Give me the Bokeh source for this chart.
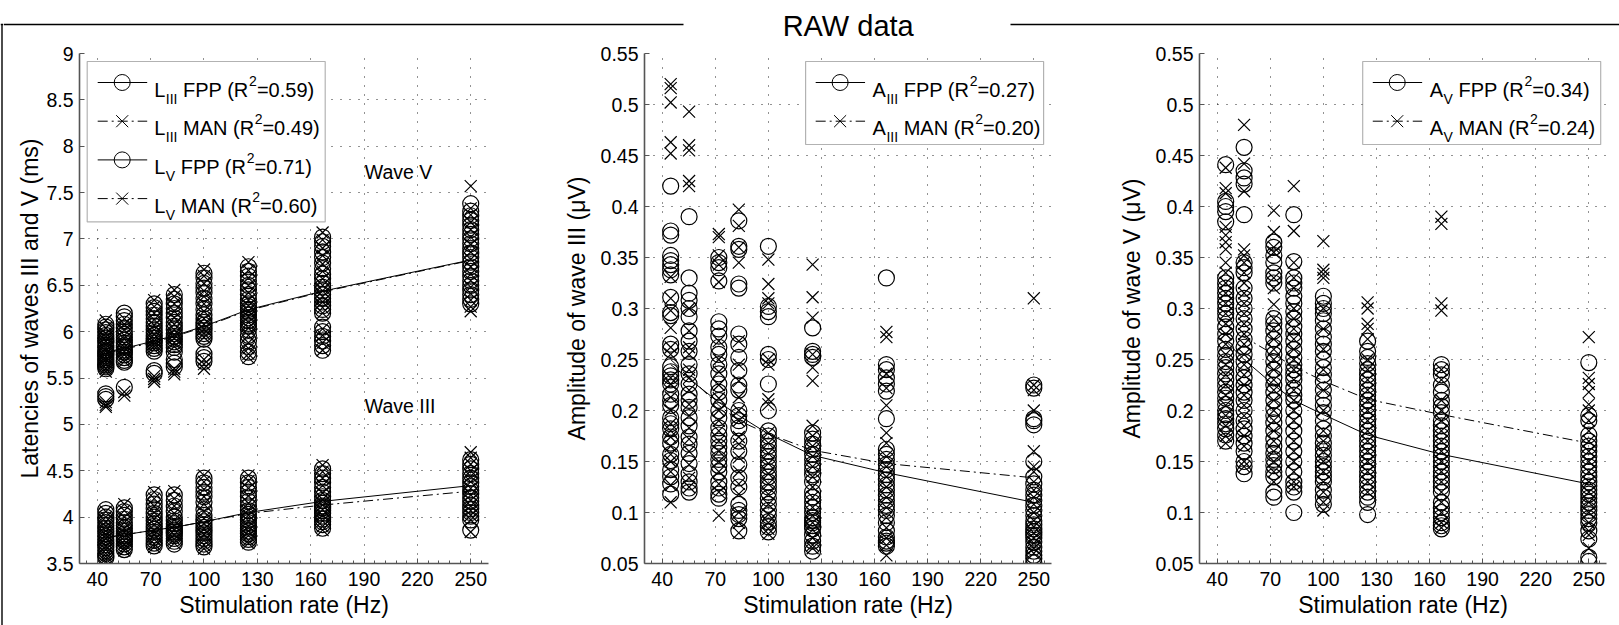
from bokeh.plotting import figure
from bokeh.layouts import row, column
from bokeh.models import Label, BoxAnnotation, FixedTicker, CustomJSTickFormatter, Range1d
from bokeh.embed import file_html
from bokeh.resources import INLINE

FONT = "Liberation Sans"

# ---------------- data ----------------
rates = [44.8, 55.2, 72.0, 83.3, 100.0, 125.0, 166.7, 250.0]
x_ticks = [40, 70, 100, 130, 160, 190, 220, 250]
lat_ticks = [3.5, 4, 4.5, 5, 5.5, 6, 6.5, 7, 7.5, 8, 8.5, 9]
amp_ticks = [0.05, 0.1, 0.15, 0.2, 0.25, 0.3, 0.35, 0.4, 0.45, 0.5, 0.55]

# Latency wave V
LV_FPP = [
    [6.08, 6.05, 6.02, 5.99, 5.96, 5.93, 5.9, 5.88, 5.85, 5.83, 5.8, 5.78, 5.76, 5.74, 5.72, 5.7, 5.68, 5.66, 5.64, 5.62, 5.6, 5.33, 5.3, 5.27],
    [6.2, 6.16, 6.12, 6.08, 6.04, 6.0, 5.97, 5.94, 5.91, 5.88, 5.85, 5.83, 5.8, 5.78, 5.75, 5.72, 5.69, 5.67, 5.4],
    [6.3, 6.26, 6.22, 6.18, 6.14, 6.1, 6.06, 6.02, 5.99, 5.96, 5.93, 5.9, 5.88, 5.85, 5.82, 5.79, 5.58, 5.55],
    [6.4, 6.35, 6.3, 6.25, 6.2, 6.15, 6.1, 6.06, 6.02, 5.98, 5.95, 5.92, 5.89, 5.86, 5.83, 5.78, 5.7, 5.66, 5.62],
    [6.63, 6.58, 6.52, 6.47, 6.42, 6.36, 6.3, 6.24, 6.18, 6.14, 6.1, 6.07, 6.04, 6.01, 5.98, 5.95, 5.92, 5.76, 5.72, 5.68],
    [6.7, 6.65, 6.6, 6.55, 6.5, 6.45, 6.4, 6.35, 6.3, 6.27, 6.24, 6.21, 6.18, 6.15, 6.12, 6.09, 6.06, 6.02, 5.96, 5.9, 5.84, 5.78, 5.73],
    [7.02, 6.97, 6.92, 6.86, 6.8, 6.74, 6.68, 6.62, 6.57, 6.52, 6.48, 6.44, 6.4, 6.36, 6.32, 6.28, 6.24, 6.2, 6.05, 6.0, 5.95, 5.9, 5.85, 5.8],
    [7.38, 7.3, 7.25, 7.2, 7.15, 7.1, 7.05, 7.0, 6.95, 6.9, 6.85, 6.8, 6.75, 6.7, 6.65, 6.6, 6.55, 6.5, 6.45, 6.4, 6.35, 6.3],
]
LV_MAN = [
    [6.12, 6.04, 5.98, 5.94, 5.9, 5.86, 5.82, 5.79, 5.76, 5.73, 5.7, 5.67, 5.64, 5.6, 5.57, 5.24, 5.21, 5.19],
    [6.14, 6.08, 6.02, 5.96, 5.92, 5.87, 5.83, 5.79, 5.75, 5.71, 5.68, 5.35, 5.31],
    [6.34, 6.27, 6.2, 6.13, 6.07, 6.02, 5.97, 5.93, 5.9, 5.87, 5.84, 5.81, 5.52, 5.49, 5.46],
    [6.45, 6.38, 6.3, 6.22, 6.15, 6.08, 6.02, 5.97, 5.93, 5.88, 5.84, 5.6, 5.57, 5.54],
    [6.67, 6.6, 6.52, 6.44, 6.38, 6.3, 6.22, 6.14, 6.08, 6.03, 5.98, 5.94, 5.7, 5.65, 5.6],
    [6.75, 6.66, 6.58, 6.5, 6.42, 6.34, 6.28, 6.22, 6.16, 6.1, 6.04, 5.96, 5.88, 5.82, 5.76, 5.72],
    [7.07, 6.99, 6.9, 6.82, 6.73, 6.65, 6.57, 6.5, 6.44, 6.38, 6.32, 6.26, 6.2, 6.03, 5.96, 5.88, 5.8],
    [7.57, 7.33, 7.26, 7.18, 7.1, 7.02, 6.94, 6.86, 6.78, 6.7, 6.62, 6.55, 6.48, 6.41, 6.34, 6.27, 6.22],
]
# Latency wave III
LIII_FPP = [
    [4.08, 4.04, 4.0, 3.97, 3.94, 3.91, 3.88, 3.85, 3.82, 3.79, 3.76, 3.73, 3.7, 3.67, 3.64, 3.61, 3.58, 3.56],
    [4.1, 4.06, 4.02, 3.98, 3.94, 3.91, 3.88, 3.85, 3.82, 3.8, 3.78, 3.76, 3.74, 3.71, 3.68, 3.65],
    [4.24, 4.19, 4.14, 4.09, 4.04, 4.0, 3.96, 3.93, 3.9, 3.87, 3.84, 3.81, 3.78, 3.75, 3.72, 3.69],
    [4.24, 4.18, 4.12, 4.06, 4.0, 3.96, 3.93, 3.9, 3.88, 3.86, 3.84, 3.82, 3.8, 3.77, 3.74, 3.71],
    [4.42, 4.37, 4.32, 4.27, 4.22, 4.16, 4.08, 4.02, 3.98, 3.95, 3.92, 3.89, 3.86, 3.83, 3.8, 3.77, 3.74, 3.71, 3.68],
    [4.42, 4.37, 4.32, 4.27, 4.22, 4.17, 4.12, 4.07, 4.03, 4.0, 3.97, 3.94, 3.91, 3.88, 3.85, 3.82, 3.79, 3.76, 3.73],
    [4.52, 4.47, 4.42, 4.37, 4.32, 4.27, 4.22, 4.18, 4.15, 4.12, 4.1, 4.07, 4.04, 4.01, 3.98, 3.95, 3.92, 3.88],
    [4.62, 4.57, 4.52, 4.47, 4.42, 4.37, 4.33, 4.29, 4.25, 4.21, 4.17, 4.13, 4.09, 4.05, 4.01, 3.97, 3.86],
]
LIII_MAN = [
    [4.06, 4.0, 3.95, 3.9, 3.85, 3.81, 3.77, 3.73, 3.69, 3.65, 3.61, 3.58, 3.55, 3.52],
    [4.14, 4.07, 4.0, 3.94, 3.88, 3.83, 3.79, 3.75, 3.71, 3.67, 3.64],
    [4.27, 4.2, 4.12, 4.05, 3.98, 3.92, 3.86, 3.81, 3.76, 3.71, 3.68],
    [4.28, 4.2, 4.12, 4.04, 3.97, 3.91, 3.86, 3.81, 3.76, 3.72],
    [4.45, 4.38, 4.3, 4.22, 4.14, 4.06, 3.99, 3.93, 3.87, 3.81, 3.75, 3.7, 3.66],
    [4.45, 4.39, 4.31, 4.23, 4.15, 4.08, 4.02, 3.96, 3.9, 3.85, 3.8, 3.75, 3.72],
    [4.56, 4.49, 4.42, 4.34, 4.26, 4.19, 4.13, 4.08, 4.02, 3.96, 3.9, 3.86],
    [4.7, 4.64, 4.57, 4.5, 4.44, 4.38, 4.31, 4.24, 4.18, 4.12, 4.07, 4.02, 3.97, 3.84],
]
fit_LV_FPP = [5.78, 5.82, 5.90, 5.957, 6.058, 6.238, 6.437, 6.773]
fit_LV_MAN = [5.77, 5.81, 5.89, 5.947, 6.05, 6.23, 6.43, 6.768]
fit_LIII_FPP = [3.78, 3.81, 3.86, 3.89, 3.95, 4.05, 4.17, 4.34]
fit_LIII_MAN = [3.78, 3.81, 3.86, 3.89, 3.95, 4.04, 4.13, 4.28]

# Amplitude wave III
AIII_FPP = [
    [0.42, 0.376, 0.372, 0.352, 0.347, 0.343, 0.338, 0.333, 0.311, 0.296, 0.293, 0.265, 0.26, 0.243, 0.238, 0.234, 0.23, 0.226, 0.216, 0.21, 0.205, 0.193, 0.187, 0.182, 0.174, 0.168, 0.157, 0.151, 0.142, 0.135, 0.128, 0.118],
    [0.39, 0.33, 0.315, 0.308, 0.3, 0.292, 0.278, 0.268, 0.258, 0.245, 0.236, 0.226, 0.216, 0.21, 0.203, 0.193, 0.185, 0.174, 0.167, 0.158, 0.148, 0.138, 0.13, 0.124, 0.12],
    [0.35, 0.345, 0.34, 0.327, 0.287, 0.28, 0.273, 0.262, 0.255, 0.245, 0.236, 0.226, 0.218, 0.21, 0.2, 0.193, 0.183, 0.176, 0.17, 0.164, 0.158, 0.152, 0.146, 0.14, 0.13, 0.124, 0.118, 0.114],
    [0.386, 0.361, 0.358, 0.324, 0.32, 0.275, 0.265, 0.252, 0.239, 0.225, 0.22, 0.2, 0.195, 0.19, 0.183, 0.17, 0.16, 0.147, 0.134, 0.125, 0.108, 0.102, 0.098, 0.094, 0.082],
    [0.361, 0.302, 0.297, 0.292, 0.255, 0.25, 0.226, 0.2, 0.18, 0.175, 0.17, 0.165, 0.16, 0.155, 0.15, 0.145, 0.14, 0.135, 0.13, 0.125, 0.12, 0.114, 0.108, 0.102, 0.097, 0.091, 0.086, 0.081],
    [0.281, 0.258, 0.255, 0.252, 0.178, 0.172, 0.167, 0.162, 0.157, 0.152, 0.147, 0.142, 0.137, 0.13, 0.12, 0.115, 0.11, 0.105, 0.1, 0.095, 0.092, 0.09, 0.087, 0.084, 0.078, 0.072, 0.067, 0.062],
    [0.33, 0.245, 0.24, 0.232, 0.226, 0.219, 0.192, 0.162, 0.157, 0.152, 0.147, 0.142, 0.137, 0.132, 0.127, 0.122, 0.117, 0.112, 0.107, 0.102, 0.097, 0.09, 0.082, 0.076, 0.072, 0.07, 0.067],
    [0.225, 0.222, 0.192, 0.19, 0.186, 0.15, 0.135, 0.128, 0.122, 0.117, 0.112, 0.107, 0.102, 0.097, 0.092, 0.088, 0.084, 0.081, 0.078, 0.075, 0.071, 0.066, 0.062, 0.058, 0.055, 0.051],
]
AIII_MAN = [
    [0.52, 0.516, 0.502, 0.463, 0.452, 0.331, 0.31, 0.298, 0.281, 0.262, 0.255, 0.232, 0.226, 0.213, 0.2, 0.187, 0.18, 0.174, 0.165, 0.157, 0.15, 0.14, 0.127, 0.11],
    [0.493, 0.46, 0.455, 0.425, 0.42, 0.3, 0.278, 0.262, 0.255, 0.24, 0.232, 0.22, 0.206, 0.195, 0.183, 0.172, 0.16, 0.147, 0.134, 0.125],
    [0.373, 0.37, 0.352, 0.343, 0.326, 0.268, 0.25, 0.238, 0.225, 0.212, 0.2, 0.19, 0.18, 0.17, 0.16, 0.15, 0.14, 0.128, 0.12, 0.097],
    [0.397, 0.381, 0.36, 0.345, 0.268, 0.245, 0.229, 0.213, 0.2, 0.19, 0.174, 0.167, 0.154, 0.14, 0.128, 0.118, 0.1, 0.09, 0.08],
    [0.348, 0.324, 0.31, 0.305, 0.25, 0.245, 0.211, 0.206, 0.178, 0.168, 0.158, 0.148, 0.138, 0.128, 0.118, 0.108, 0.098, 0.09, 0.084, 0.079],
    [0.343, 0.311, 0.291, 0.255, 0.242, 0.229, 0.185, 0.175, 0.165, 0.155, 0.145, 0.135, 0.125, 0.115, 0.105, 0.097, 0.09, 0.083, 0.075, 0.068, 0.065],
    [0.277, 0.272, 0.236, 0.222, 0.205, 0.178, 0.168, 0.155, 0.145, 0.135, 0.125, 0.115, 0.105, 0.095, 0.085, 0.075, 0.068, 0.058],
    [0.31, 0.225, 0.22, 0.2, 0.16, 0.145, 0.14, 0.13, 0.122, 0.115, 0.108, 0.1, 0.092, 0.086, 0.08, 0.075, 0.07, 0.065, 0.06],
]
fit_AIII_FPP = [0.245, 0.231, 0.208, 0.195, 0.177, 0.156, 0.139, 0.110]
fit_AIII_MAN = [0.250, 0.233, 0.205, 0.190, 0.177, 0.161, 0.148, 0.134]

# Amplitude wave V
AV_FPP = [
    [0.441, 0.405, 0.4, 0.395, 0.385, 0.33, 0.325, 0.32, 0.315, 0.31, 0.305, 0.3, 0.295, 0.29, 0.282, 0.275, 0.268, 0.26, 0.254, 0.248, 0.242, 0.236, 0.23, 0.224, 0.218, 0.212, 0.206, 0.2, 0.196, 0.192, 0.187, 0.182, 0.176, 0.17],
    [0.458, 0.435, 0.428, 0.422, 0.392, 0.345, 0.34, 0.335, 0.32, 0.31, 0.3, 0.29, 0.28, 0.27, 0.262, 0.255, 0.248, 0.24, 0.232, 0.225, 0.218, 0.21, 0.2, 0.19, 0.182, 0.175, 0.168, 0.16, 0.15, 0.145, 0.138],
    [0.365, 0.36, 0.352, 0.345, 0.335, 0.33, 0.325, 0.29, 0.285, 0.278, 0.27, 0.262, 0.255, 0.248, 0.24, 0.232, 0.225, 0.218, 0.21, 0.202, 0.195, 0.188, 0.18, 0.172, 0.165, 0.158, 0.152, 0.146, 0.14, 0.135, 0.12, 0.115],
    [0.392, 0.346, 0.33, 0.325, 0.32, 0.312, 0.305, 0.297, 0.29, 0.282, 0.275, 0.268, 0.26, 0.252, 0.245, 0.24, 0.235, 0.23, 0.222, 0.215, 0.21, 0.2, 0.19, 0.18, 0.17, 0.16, 0.15, 0.14, 0.13, 0.125, 0.12, 0.1],
    [0.312, 0.305, 0.3, 0.295, 0.288, 0.28, 0.272, 0.265, 0.258, 0.25, 0.242, 0.235, 0.228, 0.22, 0.212, 0.205, 0.198, 0.19, 0.182, 0.175, 0.168, 0.162, 0.156, 0.15, 0.145, 0.14, 0.135, 0.13, 0.122, 0.115, 0.108],
    [0.268, 0.258, 0.252, 0.246, 0.24, 0.235, 0.23, 0.225, 0.22, 0.215, 0.21, 0.205, 0.2, 0.195, 0.19, 0.185, 0.18, 0.175, 0.17, 0.165, 0.16, 0.155, 0.15, 0.145, 0.14, 0.135, 0.13, 0.125, 0.12, 0.115, 0.11, 0.098],
    [0.245, 0.24, 0.235, 0.225, 0.218, 0.21, 0.204, 0.198, 0.19, 0.185, 0.18, 0.175, 0.17, 0.165, 0.16, 0.155, 0.15, 0.145, 0.14, 0.135, 0.13, 0.125, 0.12, 0.11, 0.105, 0.1, 0.095, 0.09, 0.087, 0.084],
    [0.247, 0.195, 0.19, 0.176, 0.17, 0.165, 0.16, 0.155, 0.15, 0.145, 0.14, 0.135, 0.13, 0.126, 0.122, 0.118, 0.114, 0.11, 0.106, 0.102, 0.098, 0.094, 0.09, 0.082, 0.074, 0.056, 0.052],
]
AV_MAN = [
    [0.438, 0.418, 0.413, 0.38, 0.372, 0.365, 0.358, 0.345, 0.335, 0.325, 0.315, 0.305, 0.295, 0.285, 0.275, 0.265, 0.255, 0.245, 0.235, 0.225, 0.215, 0.205, 0.195, 0.185, 0.175, 0.168],
    [0.48, 0.442, 0.415, 0.358, 0.352, 0.345, 0.335, 0.325, 0.315, 0.305, 0.295, 0.285, 0.275, 0.265, 0.255, 0.245, 0.235, 0.225, 0.215, 0.205, 0.195, 0.185, 0.175, 0.165, 0.15, 0.145],
    [0.396, 0.375, 0.36, 0.355, 0.33, 0.32, 0.304, 0.29, 0.28, 0.27, 0.26, 0.25, 0.24, 0.23, 0.22, 0.21, 0.2, 0.19, 0.18, 0.17, 0.16, 0.15, 0.14, 0.13],
    [0.42, 0.376, 0.345, 0.33, 0.32, 0.3, 0.29, 0.28, 0.27, 0.26, 0.25, 0.24, 0.23, 0.22, 0.21, 0.2, 0.19, 0.18, 0.17, 0.16, 0.15, 0.14, 0.13, 0.125],
    [0.366, 0.338, 0.334, 0.33, 0.3, 0.28, 0.26, 0.24, 0.22, 0.2, 0.18, 0.17, 0.16, 0.15, 0.14, 0.13, 0.12, 0.11, 0.102],
    [0.306, 0.3, 0.285, 0.28, 0.27, 0.25, 0.24, 0.23, 0.22, 0.21, 0.2, 0.19, 0.18, 0.17, 0.16, 0.15, 0.14, 0.13, 0.12],
    [0.39, 0.383, 0.305, 0.298, 0.24, 0.23, 0.21, 0.2, 0.19, 0.18, 0.17, 0.16, 0.15, 0.14, 0.13, 0.12, 0.11, 0.1, 0.09, 0.085],
    [0.272, 0.232, 0.226, 0.218, 0.206, 0.2, 0.19, 0.18, 0.17, 0.16, 0.15, 0.14, 0.13, 0.12, 0.11, 0.1, 0.09, 0.082, 0.078, 0.065],
]
fit_AV_FPP = [0.268, 0.250, 0.225, 0.210, 0.196, 0.176, 0.157, 0.128]
fit_AV_MAN = [0.285, 0.272, 0.255, 0.243, 0.229, 0.211, 0.196, 0.168]

legend_lat = [("L", "III", "FPP (R", "=0.59)", "circle", "solid"),
              ("L", "III", "MAN (R", "=0.49)", "x", "dashdot"),
              ("L", "V", "FPP (R", "=0.71)", "circle", "solid"),
              ("L", "V", "MAN (R", "=0.60)", "x", "dashdot")]
legend_a3 = [("A", "III", "FPP (R", "=0.27)", "circle", "solid"),
             ("A", "III", "MAN (R", "=0.20)", "x", "dashdot")]
legend_a5 = [("A", "V", "FPP (R", "=0.34)", "circle", "solid"),
             ("A", "V", "MAN (R", "=0.24)", "x", "dashdot")]

# ---------------- layout constants ----------------
W = 1619
H = 625
EDGE_W = 3            # narrow strip holding the left frame line
STRIP_H = 40          # top strip with the frame line and title
PH = H - STRIP_H      # panel height
B_TOP = 53 - STRIP_H
B_BOT = 62
FRAME_BOTTOM = H - B_BOT      # global canvas y of the frames' bottom
FRAME_H = PH - B_TOP - B_BOT
X_RANGE = (30, 260)
DASHDOT = "10 4 2 4"
CIRCLE_SIZE = 16
X_SIZE = 17
MLW = 1.2
LEG_FS = 20
LEG_SUB = 14

ADV = {' ': 278, '(': 333, ')': 333, '=': 584, '.': 278, 'A': 667, 'F': 611, 'I': 278,
       'L': 556, 'M': 833, 'N': 722, 'P': 667, 'R': 722, 'V': 667}
for _d in "0123456789":
    ADV[_d] = 556


def text_w(s, size):
    return sum(ADV.get(c, 556) for c in s) * size / 1000.0


def bare_figure(width, height, xr, yr):
    f = figure(width=width, height=height, x_range=Range1d(*xr), y_range=Range1d(*yr),
               output_backend="svg", toolbar_location=None, min_border=0,
               x_axis_location=None, y_axis_location=None)
    f.grid.visible = False
    f.outline_line_color = None
    f.background_fill_color = "white"
    f.border_fill_color = "white"
    return f


class Panel:
    def __init__(self, offset, width, frame_left, frame_right, y_range, y_ticks, y_label, label_standoff):
        self.off = offset
        self.fl = frame_left - offset
        self.fw = frame_right - frame_left
        self.y_range = y_range
        p = figure(width=width, height=PH, x_range=Range1d(*X_RANGE), y_range=Range1d(*y_range),
                   output_backend="svg", toolbar_location=None,
                   min_border_left=self.fl, min_border_right=width - self.fl - self.fw,
                   min_border_top=B_TOP, min_border_bottom=B_BOT)
        p.outline_line_color = None
        p.background_fill_color = "white"
        p.border_fill_color = "white"
        p.xaxis.ticker = FixedTicker(ticks=x_ticks, minor_ticks=list(range(34, 260, 6)))
        p.yaxis.ticker = FixedTicker(ticks=y_ticks)
        p.yaxis.formatter = CustomJSTickFormatter(code="return String(Math.round(tick*1000)/1000);")
        p.xaxis.axis_label = "Stimulation rate (Hz)"
        p.yaxis.axis_label = y_label
        for ax in (p.xaxis[0], p.yaxis[0]):
            ax.axis_line_color = "#555555"
            ax.axis_line_width = 1.6
            ax.major_tick_line_color = "#555555"
            ax.major_tick_in = 5
            ax.major_tick_out = 0
            ax.minor_tick_line_color = "#555555"
            ax.minor_tick_in = 3
            ax.minor_tick_out = 0
            ax.major_label_text_font = FONT
            ax.major_label_text_font_size = "19.5px"
            ax.major_label_text_color = "black"
            ax.axis_label_text_font = FONT
            ax.axis_label_text_font_size = "23px"
            ax.axis_label_text_font_style = "normal"
            ax.axis_label_text_color = "black"
        p.yaxis.minor_tick_line_color = None
        p.xaxis.major_label_standoff = 8
        p.xaxis.axis_label_standoff = 3
        p.yaxis.major_label_standoff = 6
        p.yaxis.axis_label_standoff = label_standoff
        p.grid.grid_line_color = "black"
        p.grid.grid_line_alpha = 0.85
        p.grid.grid_line_dash = "1 8"
        p.grid.grid_line_width = 1
        self.p = p

    # conversions from global canvas pixels
    def sx(self, X):
        return X - self.off - self.fl

    def sy(self, Y):
        return FRAME_BOTTOM - Y

    def dx(self, X):
        return X_RANGE[0] + self.sx(X) / self.fw * (X_RANGE[1] - X_RANGE[0])

    def dy(self, Y):
        y0, y1 = self.y_range
        return y0 + self.sy(Y) / FRAME_H * (y1 - y0)

    def text(self, X, Y, s, size):
        self.p.add_layout(Label(x=self.sx(X), y=self.sy(Y), x_units="screen", y_units="screen",
                                text=s, text_font=FONT, text_font_size=f"{size}px",
                                text_color="black", text_align="left", text_baseline="alphabetic"))

    def scatter_groups(self, groups, marker, size):
        xs, ys = [], []
        for r, vals in zip(rates, groups):
            xs += [r] * len(vals)
            ys += vals
        self.p.scatter(xs, ys, marker=marker, size=size, fill_color=None, line_color="black", line_width=MLW)

    def fit(self, vals, dash):
        self.p.line(rates, vals, line_color="black", line_width=1,
                    line_dash="solid" if dash == "solid" else DASHDOT)

    def legend(self, box_left, rows_spec):
        top = 61
        bottom = top + 83 + (len(rows_spec) - 2) * 38.7
        right = box_left + 238
        self.p.add_layout(BoxAnnotation(left=self.sx(box_left), right=self.sx(right),
                                        top=self.sy(top), bottom=self.sy(bottom),
                                        left_units="screen", right_units="screen",
                                        top_units="screen", bottom_units="screen",
                                        fill_color="white", fill_alpha=1.0, line_color="black",
                                        line_width=1.2, level="underlay"))
        for i, (main, sub, mid, tail, marker, dash) in enumerate(rows_spec):
            base = 89 + i * 38.7
            yc = base - 7
            self.p.line([self.dx(box_left + 10.5), self.dx(box_left + 60)], [self.dy(yc), self.dy(yc)],
                        line_color="black", line_width=1,
                        line_dash="solid" if dash == "solid" else DASHDOT)
            self.p.scatter([self.dx(box_left + 35)], [self.dy(yc)], marker=marker,
                           size=CIRCLE_SIZE if marker == "circle" else X_SIZE,
                           fill_color=None, line_color="black", line_width=1.0)
            x = box_left + 67
            self.text(x, base, main, LEG_FS)
            x += text_w(main, LEG_FS) + 0.5
            self.text(x, base + 9, sub, LEG_SUB)
            x += text_w(sub, LEG_SUB) + text_w(" ", LEG_FS)
            self.text(x, base, mid, LEG_FS)
            x += text_w(mid, LEG_FS) + 0.5
            self.text(x, base - 9, "2", LEG_SUB)
            x += text_w("2", LEG_SUB)
            self.text(x, base, tail, LEG_FS)


# ---------------- frame pieces and title ----------------
edge = bare_figure(EDGE_W, H, (0, EDGE_W), (H, 0))
edge.line([1.5, 1.5], [24, H], line_color="black", line_width=1.4)
edge.line([0, EDGE_W], [24, 24], line_color="black", line_width=1.4)

strip = bare_figure(W - EDGE_W, STRIP_H, (EDGE_W, W), (STRIP_H, 0))
strip.line([EDGE_W, 683], [24, 24], line_color="black", line_width=1.4)
strip.line([1010, W], [24, 24], line_color="black", line_width=1.4)
strip.add_layout(Label(x=847.7, y=25, text="RAW data", text_font=FONT, text_font_size="29px",
                       text_align="center", text_baseline="middle", text_color="black"))

# ---------------- panels ----------------
P1 = Panel(EDGE_W, 560 - EDGE_W, 79, 488, (3.5, 9), lat_ticks, "Latencies of waves III and V (ms)", 0)
P2 = Panel(560, 555, 643, 1051, (0.05, 0.55), amp_ticks, "Amplitude of wave III (\u03bcV)", 8)
P3 = Panel(1115, 504, 1198, 1606, (0.05, 0.55), amp_ticks, "Amplitude of wave V (\u03bcV)", 8)

# panel 1
P1.legend(86.7, legend_lat)
P1.scatter_groups(LV_FPP, "circle", CIRCLE_SIZE)
P1.scatter_groups(LV_MAN, "x", X_SIZE)
P1.scatter_groups(LIII_FPP, "circle", CIRCLE_SIZE)
P1.scatter_groups(LIII_MAN, "x", X_SIZE)
P1.fit(fit_LIII_FPP, "solid")
P1.fit(fit_LIII_MAN, "dashdot")
P1.fit(fit_LV_FPP, "solid")
P1.fit(fit_LV_MAN, "dashdot")
P1.p.add_layout(Label(x=190.4, y=7.72, text="Wave V", text_font=FONT, text_font_size="19.5px",
                      text_baseline="middle", text_align="left", text_color="black"))
P1.p.add_layout(Label(x=190.4, y=5.2, text="Wave III", text_font=FONT, text_font_size="19.5px",
                      text_baseline="middle", text_align="left", text_color="black"))

# panel 2
P2.legend(804.1, legend_a3)
P2.scatter_groups(AIII_FPP, "circle", CIRCLE_SIZE)
P2.scatter_groups(AIII_MAN, "x", X_SIZE)
P2.fit(fit_AIII_FPP, "solid")
P2.fit(fit_AIII_MAN, "dashdot")

# panel 3
P3.legend(1361.2, legend_a5)
P3.scatter_groups(AV_FPP, "circle", CIRCLE_SIZE)
P3.scatter_groups(AV_MAN, "x", X_SIZE)
P3.fit(fit_AV_FPP, "solid")
P3.fit(fit_AV_MAN, "dashdot")

layout = row(edge, column(strip, row(P1.p, P2.p, P3.p)))
open("out.html", "w").write(file_html(layout, INLINE))
